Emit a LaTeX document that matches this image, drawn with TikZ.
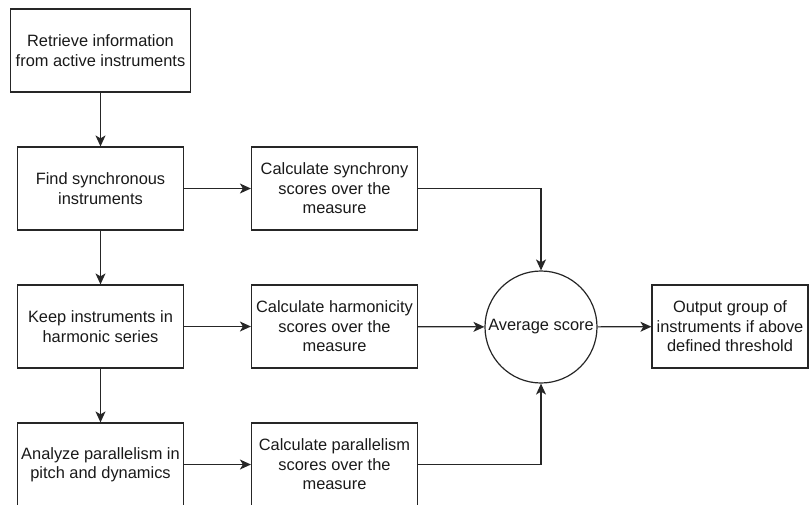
\documentclass[tikz,border=0pt]{standalone}
\usepackage{fontspec}
\setmainfont{Liberation Sans}
\usetikzlibrary{arrows.meta}
\begin{document}
\begin{tikzpicture}[x=1pt,y=-1pt,
  txt/.style={font=\fontsize{16.4}{19.5}\selectfont, text=black!90, align=center, inner sep=0pt},
  box/.style={txt, draw=black!85, line width=1.2pt, minimum width=166pt, minimum height=83pt},
  roundnode/.style={txt, circle, draw=black!85, line width=1.2pt, minimum size=112pt},
  arr/.style={draw=black!85, line width=1.2pt, -{Stealth[length=11pt,width=10pt,inset=3pt]}}]
  \useasboundingbox (0,0) rectangle (810,504);

  % left column: processing steps
  \node[box, minimum width=180pt] (retrieve) at (100.5,50.5) {Retrieve information\\from active instruments};
  \node[box] (find) at (100.5,188.5) {Find synchronous\\instruments};
  \node[box] (keep) at (100.5,326.5) {Keep instruments in\\harmonic series};
  \node[box] (analyze) at (100.5,464.5) {Analyze parallelism in\\pitch and dynamics};

  % middle column: score calculations
  \node[box] (sync) at (334.5,188.5) {Calculate synchrony\\scores over the\\measure};
  \node[box] (harm) at (334.5,326.5) {Calculate harmonicity\\scores over the\\measure};
  \node[box] (par) at (334.5,464.5) {Calculate parallelism\\scores over the\\measure};

  % combination and output
  \node[roundnode] (avg) at (541,327) {Average score};
  \node[box, minimum width=156pt] (out) at (730,326.5) {Output group of\\instruments if above\\defined threshold};

  % connectors
  \draw[arr] (retrieve) -- (find);
  \draw[arr] (find) -- (keep);
  \draw[arr] (keep) -- (analyze);
  \draw[arr] (find) -- (sync);
  \draw[arr] (keep) -- (harm);
  \draw[arr] (analyze) -- (par);
  \draw[arr] (sync.east) -| (avg.north);
  \draw[arr] (harm) -- (avg);
  \draw[arr] (par.east) -| (avg.south);
  \draw[arr] (avg) -- (out);
\end{tikzpicture}
\end{document}
